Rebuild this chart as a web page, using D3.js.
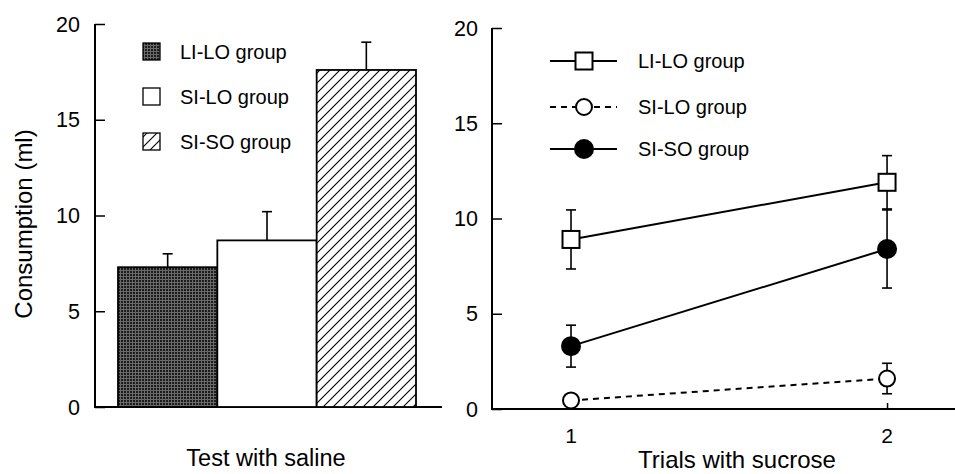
<!DOCTYPE html>
<html><head><meta charset="utf-8">
<script src="https://cdn.jsdelivr.net/npm/d3@7/dist/d3.min.js"></script>
<style>
html,body{margin:0;padding:0;background:#fff;}
svg{display:block;font-family:"Liberation Sans",Arial,sans-serif;}
</style></head>
<body>
<svg id="chart" width="955" height="474"></svg>
<script>
// ---- data ----
const groups = ["LI-LO group", "SI-LO group", "SI-SO group"];
const salineMeans = [7.3, 8.7, 17.6];
const salineErr = [0.7, 1.5, 1.45];
const yTicks = [0, 5, 10, 15, 20];
const trials = [1, 2];
const liloMeans = [8.9, 11.9];
const liloErr = [1.55, 1.4];
const siloMeans = [0.45, 1.6];
const siloErr = [0, 0.8];
const sisoMeans = [3.3, 8.4];
const sisoErr = [1.1, 2.05];
const leftXTitle = "Test with saline";
const rightXTitle = "Trials with sucrose";
const yTitle = "Consumption (ml)";

const svg = d3.select("#chart");
const defs = svg.append("defs");
// dark stipple pattern
const pd = defs.append("pattern").attr("id","dark").attr("patternUnits","userSpaceOnUse")
  .attr("width",3).attr("height",3);
pd.append("rect").attr("width",3).attr("height",3).attr("fill","#1c1c1c");
pd.append("rect").attr("x",0).attr("y",0).attr("width",3).attr("height",1).attr("fill","#6a6a6a");
pd.append("rect").attr("x",0).attr("y",0).attr("width",1).attr("height",3).attr("fill","#6a6a6a");
// hatch pattern
const ph = defs.append("pattern").attr("id","hatch").attr("patternUnits","userSpaceOnUse")
  .attr("width",10).attr("height",10);
ph.append("rect").attr("width",10).attr("height",10).attr("fill","#fff");
ph.append("path").attr("d","M0,10 L10,0 M-2.5,2.5 L2.5,-2.5 M7.5,12.5 L12.5,7.5")
  .attr("stroke","#000").attr("stroke-width",1.1);
const fills = ["url(#dark)", "#fff", "url(#hatch)"];

// ---- left panel ----
const yL = d3.scaleLinear().domain([0,20]).range([407,24]);
const xL = d3.scaleBand().domain(groups).range([118,416]).padding(0);
const axL = svg.append("g");
axL.append("line").attr("x1",95).attr("x2",95).attr("y1",yL(20)).attr("y2",yL(0))
  .attr("stroke","#000").attr("stroke-width",2);
axL.append("line").attr("x1",94).attr("x2",442).attr("y1",yL(0)).attr("y2",yL(0))
  .attr("stroke","#000").attr("stroke-width",2);
const gyL = svg.append("g").attr("transform","translate(95,0)")
  .call(d3.axisRight(yL).tickValues(yTicks).tickSize(10).tickFormat(""));
gyL.select(".domain").remove();
gyL.selectAll("line").attr("stroke-width",1.5);
svg.append("g").selectAll("text").data(yTicks).join("text")
  .attr("x",80).attr("y",d=>yL(d)).attr("dy","0.36em").attr("text-anchor","end")
  .attr("font-size",21.5).text(d=>d);

const bars = svg.append("g");
groups.forEach((g,i)=>{
  const x = xL(g), w = xL.bandwidth();
  const top = yL(salineMeans[i]);
  const et = yL(salineMeans[i]+salineErr[i]);
  const cx = x + w/2;
  bars.append("line").attr("x1",cx).attr("x2",cx).attr("y1",top).attr("y2",et)
    .attr("stroke","#000").attr("stroke-width",1.6);
  bars.append("line").attr("x1",cx-5).attr("x2",cx+5).attr("y1",et).attr("y2",et)
    .attr("stroke","#000").attr("stroke-width",1.6);
  bars.append("rect").attr("x",x).attr("y",top).attr("width",w).attr("height",yL(0)-top)
    .attr("fill",fills[i]).attr("stroke","#000").attr("stroke-width",1.8);
});
const legL = svg.append("g");
const legLY = [52, 97, 142];
groups.forEach((g,i)=>{
  legL.append("rect").attr("x",143).attr("y",legLY[i]-9).attr("width",17).attr("height",17)
    .attr("fill",fills[i]).attr("stroke","#000").attr("stroke-width",1.3);
  legL.append("text").attr("x",180).attr("y",legLY[i]).attr("dy","0.36em")
    .attr("font-size",20).text(g);
});
svg.append("text").attr("x",266).attr("y",466).attr("text-anchor","middle")
  .attr("font-size",23.5).text(leftXTitle);
svg.append("text").attr("transform","translate(32,224) rotate(-90)")
  .attr("text-anchor","middle").attr("font-size",24).text(yTitle);

// ---- right panel ----
const yR = d3.scaleLinear().domain([0,20]).range([409,28]);
const xR = d3.scaleLinear().domain([0.75,2.215]).range([492,955]);
svg.append("line").attr("x1",492).attr("x2",492).attr("y1",yR(20)).attr("y2",yR(0))
  .attr("stroke","#000").attr("stroke-width",2);
svg.append("line").attr("x1",491).attr("x2",955).attr("y1",yR(0)).attr("y2",yR(0))
  .attr("stroke","#000").attr("stroke-width",2);
const gyR = svg.append("g").attr("transform","translate(492,0)")
  .call(d3.axisRight(yR).tickValues(yTicks).tickSize(10).tickFormat(""));
gyR.select(".domain").remove();
gyR.selectAll("line").attr("stroke-width",1.5);
svg.append("g").selectAll("text").data(yTicks).join("text")
  .attr("x",478).attr("y",d=>yR(d)).attr("dy","0.36em").attr("text-anchor","end")
  .attr("font-size",21.5).text(d=>d);
const gxR = svg.append("g").attr("transform",`translate(0,${yR(0)})`)
  .call(d3.axisTop(xR).tickValues(trials).tickSize(6).tickFormat(""));
gxR.select(".domain").remove();
gxR.selectAll("line").attr("stroke-width",1.5);
svg.append("g").selectAll("text").data(trials).join("text")
  .attr("x",d=>xR(d)).attr("y",443).attr("text-anchor","middle")
  .attr("font-size",21).text(d=>d);
svg.append("text").attr("x",737).attr("y",468).attr("text-anchor","middle")
  .attr("font-size",24).text(rightXTitle);

const series = [
  {name:groups[0], means:liloMeans, err:liloErr, marker:"square", fill:"#fff", dash:null},
  {name:groups[1], means:siloMeans, err:siloErr, marker:"circle", fill:"#fff", dash:"6,5"},
  {name:groups[2], means:sisoMeans, err:sisoErr, marker:"circle", fill:"#000", dash:null}
];
const line = d3.line().x((d,i)=>xR(trials[i])).y(d=>yR(d));
const gErr = svg.append("g"), gLines = svg.append("g"), gMarks = svg.append("g");
function drawMarker(g, s, cx, cy){
  if(s.marker==="square"){
    g.append("rect").attr("x",cx-8.5).attr("y",cy-8.5).attr("width",17).attr("height",17)
      .attr("fill",s.fill).attr("stroke","#000").attr("stroke-width",2);
  } else {
    g.append("circle").attr("cx",cx).attr("cy",cy).attr("r",s.fill==="#000"?9:8)
      .attr("fill",s.fill).attr("stroke","#000").attr("stroke-width",2);
  }
}
series.forEach(s=>{
  s.means.forEach((m,i)=>{
    if(s.err[i]>0){
      const cx = xR(trials[i]);
      const y1 = yR(m+s.err[i]), y2 = yR(m-s.err[i]);
      gErr.append("line").attr("x1",cx).attr("x2",cx).attr("y1",y1).attr("y2",y2)
        .attr("stroke","#000").attr("stroke-width",1.6);
      [y1,y2].forEach(y=>gErr.append("line").attr("x1",cx-5).attr("x2",cx+5)
        .attr("y1",y).attr("y2",y).attr("stroke","#000").attr("stroke-width",1.6));
    }
  });
  gLines.append("path").attr("d",line(s.means)).attr("fill","none")
    .attr("stroke","#000").attr("stroke-width",2).attr("stroke-dasharray",s.dash);
  s.means.forEach((m,i)=>drawMarker(gMarks, s, xR(trials[i]), yR(m)));
});
const legR = svg.append("g");
const legRY = [61, 107, 149];
series.forEach((s,i)=>{
  legR.append("line").attr("x1",550).attr("x2",617).attr("y1",legRY[i]).attr("y2",legRY[i])
    .attr("stroke","#000").attr("stroke-width",2).attr("stroke-dasharray",s.dash);
  drawMarker(legR, s, 584, legRY[i]);
  legR.append("text").attr("x",638).attr("y",legRY[i]).attr("dy","0.36em")
    .attr("font-size",20).text(s.name);
});
</script>
</body></html>
